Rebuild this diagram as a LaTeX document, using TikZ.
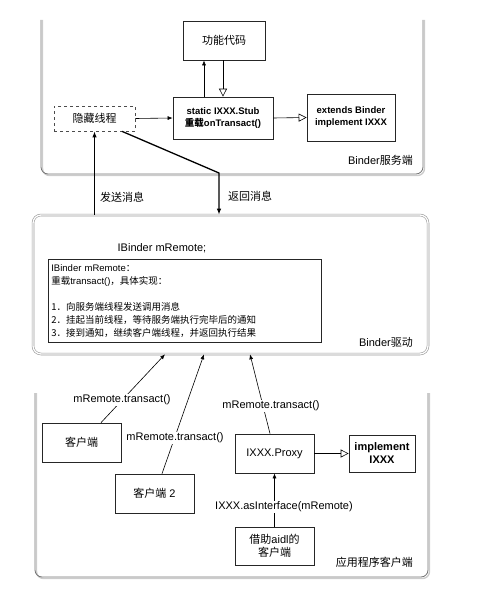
\documentclass[tikz,border=0pt]{standalone}
\usepackage{fontspec}
\setmainfont{Liberation Sans}
\newfontfamily\cjk{Noto Sans CJK SC}
\usetikzlibrary{arrows.meta,calc}
\begin{document}
\begin{tikzpicture}[x=1pt,y=-1pt,
  box/.style={draw=black!85,line width=0.7pt,fill=white,inner sep=2pt,align=center,font=\fontsize{11}{13}\selectfont},
  bbox/.style={box,font=\fontsize{9.5}{12}\selectfont\bfseries},
  panel/.style={draw=black!55,line width=0.8pt,rounded corners=7pt},
  shadowp/.style={draw=black!20,line width=1.4pt,rounded corners=7pt},
  lab/.style={font=\fontsize{11}{13}\selectfont,inner sep=1pt},
  wlab/.style={lab,fill=white},
  fa/.style={-{Latex[length=5pt,width=4pt]},line width=0.6pt},
  oa/.style={-{Triangle[open,length=8pt,width=8pt]},line width=0.6pt},
  thk/.style={line width=1.3pt,-{Latex[length=6pt,width=4.5pt]}}]
\useasboundingbox (0,0) rectangle (490,594);

% ---------- top panel ----------
\draw[shadowp] (42.5,20) -- (42.5,175.5) -- (424.5,175.5) -- (424.5,20);
\draw[panel] (41,20) -- (41,174) -- (423,174) -- (423,20);
\node[lab,anchor=base east] (srvl) at (414,164) {Binder{\cjk 服务端}};

\node[box,minimum width=82pt,minimum height=39pt] (gn) at (224,40.5) {{\cjk 功能代码}};
\node[box,dashed,draw=black!70,minimum width=81pt,minimum height=25pt] (yc) at (94.5,118.5) {{\cjk 隐藏线程}};
\node[bbox,minimum width=100pt,minimum height=42pt] (stub) at (223,118) {static IXXX.Stub\\{\cjk\bfseries 重载}onTransact()};
\node[bbox,minimum width=88pt,minimum height=47pt] (ext) at (351,117.5) {extends Binder\\implement IXXX};

\draw[fa] ([xshift=-19pt]stub.north) -- ([xshift=-19pt]stub.north |- gn.south);
\draw[oa] ([xshift=-1pt]gn.south) -- ([xshift=-1pt]gn.south |- stub.north);
\draw[fa] (yc.east) -- (stub.west);
\draw[oa] (stub.east) -- (ext.west);

% ---------- driver panel ----------
\node[draw=black!40,double,double distance=1.3pt,line width=0.6pt,rounded corners=8pt,
      minimum width=395pt,minimum height=139pt] (drv) at (230.5,284.5) {};
\node[lab,anchor=base east] (drvl) at (414,346) {Binder{\cjk 驱动}};
\node[lab] (mr) at (162,248) {IBinder mRemote;};
\node[draw=black!85,line width=0.7pt,anchor=north west,minimum width=273pt,minimum height=83pt,
      text width=267pt,align=left,inner sep=3pt,font=\fontsize{9.5}{13}\selectfont] (inner) at (48,259)
  {IBinder mRemote{\cjk ：}\\
   {\cjk 重载}transact(){\cjk ，具体实现：}\\[13pt]
   {\cjk 1．向服务端线程发送调用消息}\\
   {\cjk 2．挂起当前线程，等待服务端执行完毕后的通知}\\
   {\cjk 3．接到通知，继续客户端线程，并返回执行结果}};

% thick message lines
\draw[thk] (yc.south |- drv.north) -- (yc.south);
\coordinate (r0) at ([xshift=27.5pt]yc.south);
\coordinate (r1) at (219,173);
\draw[thk] (r0) -- (r1) -- (r1 |- drv.north);
\node[lab,anchor=west] (send) at (99,197) {{\cjk 发送消息}};
\node[lab,anchor=west] (ret) at (227,196) {{\cjk 返回消息}};

% ---------- client panel ----------
\draw[shadowp] (36.5,393) -- (36.5,578.5) -- (429.5,578.5) -- (429.5,393);
\draw[panel] (35,393) -- (35,577) -- (428,577) -- (428,393);
\node[lab,anchor=base east] (cll) at (414,566) {{\cjk 应用程序客户端}};

\node[box,minimum width=79pt,minimum height=39pt] (cl1) at (81.5,442.5) {{\cjk 客户端}};
\node[box,minimum width=79pt,minimum height=39pt] (cl2) at (154.5,493.5) {{\cjk 客户端} 2};
\node[box,minimum width=79pt,minimum height=39pt] (proxy) at (274.5,453.5) {IXXX.Proxy};
\node[box,font=\fontsize{11}{13}\selectfont\bfseries,minimum width=66pt,minimum height=37pt] (impl) at (382,453.5) {implement\\IXXX};
\node[box,minimum width=79pt,minimum height=38pt] (aidl) at (274.5,546) {{\cjk 借助}aidl{\cjk 的}\\{\cjk 客户端}};

\draw[fa] ([xshift=19.5pt]cl1.north) -- ([xshift=-65.5pt]drv.south);
\draw[fa] ([xshift=7.5pt]cl2.north) -- ([xshift=-26.5pt]drv.south);
\draw[fa] ([xshift=-4.5pt]proxy.north) -- ([xshift=19.5pt]drv.south);
\draw[oa] (proxy.east) -- (impl.west);
\draw[fa] (aidl.north) -- (proxy.south);

\node[wlab] (t1) at (122,400) {mRemote.transact()};
\node[wlab] (t2) at (175,438) {mRemote.transact()};
\node[wlab] (t3) at (271,406) {mRemote.transact()};
\node[wlab] (t4) at (284,507) {IXXX.asInterface(mRemote)};
\end{tikzpicture}
\end{document}
